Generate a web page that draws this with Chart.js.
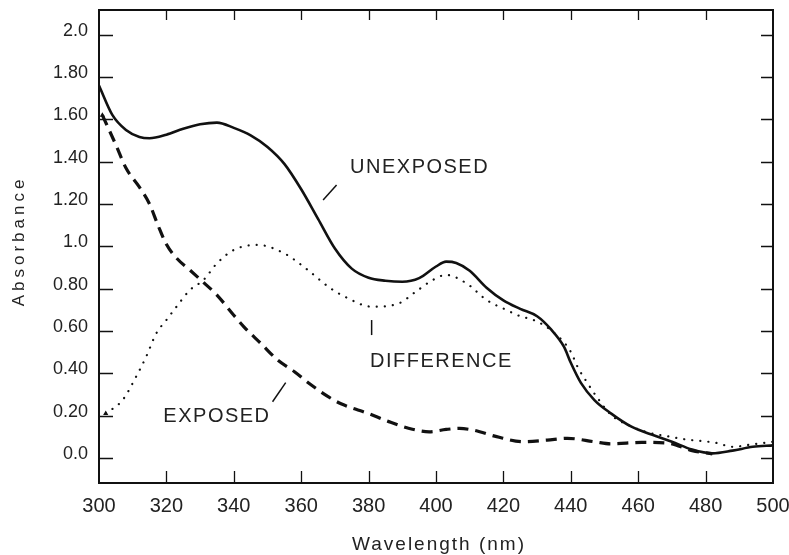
<!DOCTYPE html>
<html>
<head>
<meta charset="utf-8">
<script src="https://cdn.jsdelivr.net/npm/chart.js@4.4.1/dist/chart.umd.min.js"></script>
<style>
  html, body { margin: 0; padding: 0; background: #fff; }
  #wrap { width: 789px; height: 555px; }
</style>
</head>
<body>
<div id="wrap"><canvas id="chart" width="789" height="555"></canvas></div>
<script>
// axis ticks
const wavelengthTicks = [300, 320, 340, 360, 380, 400, 420, 440, 460, 480, 500];
const absorbanceTicks = [0, 0.2, 0.4, 0.6, 0.8, 1.0, 1.2, 1.4, 1.6, 1.8, 2.0];
const absorbanceTickLabels = ["0.0", "0.20", "0.40", "0.60", "0.80", "1.0", "1.20", "1.40", "1.60", "1.80", "2.0"];

// unexposed film (solid)
const unexposedNm  = [300, 304, 308, 312, 315, 320, 325, 330, 335, 340, 345, 350, 355, 360, 365, 370, 375, 380, 385, 390, 395, 400, 403, 406, 410, 415, 420, 425, 430, 434, 438, 440, 443, 447, 452, 458, 465, 470, 476, 482, 488, 494, 500];
const unexposedAbs = [1.76, 1.62, 1.55, 1.517, 1.511, 1.528, 1.556, 1.577, 1.585, 1.56, 1.525, 1.47, 1.39, 1.27, 1.13, 0.99, 0.895, 0.852, 0.838, 0.833, 0.85, 0.905, 0.928, 0.922, 0.885, 0.805, 0.745, 0.705, 0.67, 0.61, 0.525, 0.45, 0.355, 0.274, 0.21, 0.148, 0.105, 0.077, 0.04, 0.022, 0.035, 0.053, 0.06];

// exposed film (dashed)
const exposedNm  = [301, 305, 308, 312, 315, 317.5, 320, 323, 327, 331, 335, 340, 343, 348, 353, 358, 363, 368, 372, 380, 386, 393, 398, 403, 407, 411, 418, 426, 433, 439, 447, 452, 461, 469, 476, 482];
const exposedAbs = [1.62, 1.48, 1.37, 1.28, 1.2, 1.1, 1.01, 0.945, 0.888, 0.83, 0.77, 0.675, 0.62, 0.542, 0.463, 0.408, 0.345, 0.29, 0.255, 0.21, 0.172, 0.136, 0.124, 0.135, 0.14, 0.132, 0.101, 0.077, 0.085, 0.093, 0.077, 0.067, 0.074, 0.07, 0.035, 0.02];

// difference (dotted)
const differenceNm  = [302, 307, 311, 314, 317, 320, 323, 327, 331, 335, 340, 347, 355, 362, 368, 373, 381, 389, 394, 399, 403, 409, 415, 421, 425, 429, 434, 440, 442, 445, 448, 452, 457, 463, 468, 474, 483, 488, 494, 500];
const differenceAbs = [0.21, 0.274, 0.384, 0.479, 0.589, 0.652, 0.715, 0.794, 0.841, 0.92, 0.983, 1.007, 0.967, 0.888, 0.81, 0.762, 0.715, 0.731, 0.786, 0.841, 0.865, 0.826, 0.747, 0.699, 0.67, 0.652, 0.605, 0.502, 0.431, 0.353, 0.282, 0.203, 0.156, 0.12, 0.105, 0.088, 0.072, 0.053, 0.065, 0.077];

const curveLabels = ["UNEXPOSED", "EXPOSED", "DIFFERENCE"];

const toPoints = (xs, ys) => xs.map((x, i) => ({ x: x, y: ys[i] }));
const ink = "#111";
const firstOnly = (ctx) => (ctx.dataIndex === 0 ? 3 : 0);
const noEdgePadding = (scale) => {
  scale.paddingLeft = 0; scale.paddingRight = 0;
  scale.paddingTop = 0; scale.paddingBottom = 0;
};

const framePlugin = {
  id: "frame",
  afterDraw(chart) {
    const { ctx, chartArea: a, scales } = chart;
    const x = scales.x, y = scales.y;
    ctx.save();
    ctx.strokeStyle = ink;
    ctx.lineWidth = 2;
    ctx.strokeRect(a.left, a.top, a.right - a.left, a.bottom - a.top);

    ctx.lineWidth = 1.3;
    ctx.beginPath();
    wavelengthTicks.slice(1, -1).forEach((v) => {
      const px = Math.round(x.getPixelForValue(v)) + 0.5;
      ctx.moveTo(px, a.bottom); ctx.lineTo(px, a.bottom - 12);
      ctx.moveTo(px, a.top); ctx.lineTo(px, a.top + 10);
    });
    absorbanceTicks.forEach((v) => {
      const py = Math.round(y.getPixelForValue(v)) + 0.5;
      ctx.moveTo(a.left, py); ctx.lineTo(a.left + 14, py);
      ctx.moveTo(a.right, py); ctx.lineTo(a.right - 12, py);
    });
    ctx.stroke();

    // callouts
    const at = (nm, abs) => [x.getPixelForValue(nm), y.getPixelForValue(abs)];
    const lead = (p, q) => {
      ctx.beginPath(); ctx.moveTo(p[0], p[1]); ctx.lineTo(q[0], q[1]); ctx.stroke();
    };
    ctx.lineWidth = 1.5;
    lead(at(370.5, 1.29), at(366.5, 1.219));
    lead(at(380.9, 0.652), at(380.9, 0.581));
    lead(at(355.4, 0.356), at(351.5, 0.266));

    ctx.fillStyle = "#222";
    ctx.font = "20px 'Liberation Sans', Arial, sans-serif";
    ctx.letterSpacing = "1.5px";
    ctx.textAlign = "left";
    ctx.textBaseline = "alphabetic";
    let p = at(374.5, 1.347); ctx.fillText(curveLabels[0], p[0], p[1]);
    p = at(319.1, 0.172); ctx.fillText(curveLabels[1], p[0], p[1]);
    p = at(380.4, 0.431); ctx.fillText(curveLabels[2], p[0], p[1]);

    // axis titles
    ctx.font = "19px 'Liberation Sans', Arial, sans-serif";
    ctx.letterSpacing = "2px";
    ctx.textAlign = "center";
    ctx.textBaseline = "middle";
    ctx.fillText("Wavelength (nm)", 439, 545);
    ctx.save();
    ctx.translate(19, 241);
    ctx.rotate(-Math.PI / 2);
    ctx.font = "17px 'Liberation Sans', Arial, sans-serif";
    ctx.letterSpacing = "4px";
    ctx.fillText("Absorbance", 0, 0);
    ctx.restore();
    ctx.restore();
  }
};

new Chart(document.getElementById("chart"), {
  type: "line",
  data: {
    datasets: [
      {
        label: curveLabels[0],
        data: toPoints(unexposedNm, unexposedAbs),
        borderColor: ink,
        borderWidth: 2.6,
        pointRadius: 0,
        cubicInterpolationMode: "monotone"
      },
      {
        label: curveLabels[1],
        data: toPoints(exposedNm, exposedAbs),
        borderColor: ink,
        borderWidth: 3.2,
        borderDash: [11, 7],
        pointRadius: firstOnly,
        pointStyle: "triangle",
        pointBackgroundColor: ink,
        pointBorderWidth: 0,
        cubicInterpolationMode: "monotone"
      },
      {
        label: curveLabels[2],
        data: toPoints(differenceNm, differenceAbs),
        borderColor: ink,
        borderWidth: 2.2,
        borderCapStyle: "round",
        borderDash: [0.1, 8],
        pointRadius: firstOnly,
        pointStyle: "triangle",
        pointBackgroundColor: ink,
        pointBorderWidth: 0,
        cubicInterpolationMode: "monotone"
      }
    ]
  },
  options: {
    responsive: false,
    animation: false,
    layout: { padding: { left: 0, right: 16, top: 10, bottom: 0 } },
    plugins: { legend: { display: false }, tooltip: { enabled: false } },
    scales: {
      x: {
        type: "linear",
        min: 300,
        max: 500,
        afterBuildTicks: (scale) => { scale.ticks = wavelengthTicks.map((v) => ({ value: v })); },
        afterFit: (scale) => { scale.height = 72; noEdgePadding(scale); },
        grid: { display: false, drawTicks: false, tickLength: 0 },
        border: { display: false },
        ticks: {
          padding: 11,
          labelOffset: 0,
          maxRotation: 0,
          autoSkip: false,
          color: "#222",
          font: { family: "'Liberation Sans', Arial, sans-serif", size: 20 }
        }
      },
      y: {
        min: -0.118,
        max: 2.117,
        afterBuildTicks: (scale) => { scale.ticks = absorbanceTicks.map((v) => ({ value: v })); },
        afterFit: (scale) => { scale.width = 99; noEdgePadding(scale); },
        grid: { display: false, drawTicks: false, tickLength: 0 },
        border: { display: false },
        ticks: {
          padding: 11,
          labelOffset: -4,
          autoSkip: false,
          color: "#222",
          font: { family: "'Liberation Sans', Arial, sans-serif", size: 18 },
          callback: (value) => {
            const i = absorbanceTicks.findIndex((t) => Math.abs(t - value) < 1e-6);
            return i >= 0 ? absorbanceTickLabels[i] : "";
          }
        }
      }
    }
  },
  plugins: [framePlugin]
});
</script>
</body>
</html>
